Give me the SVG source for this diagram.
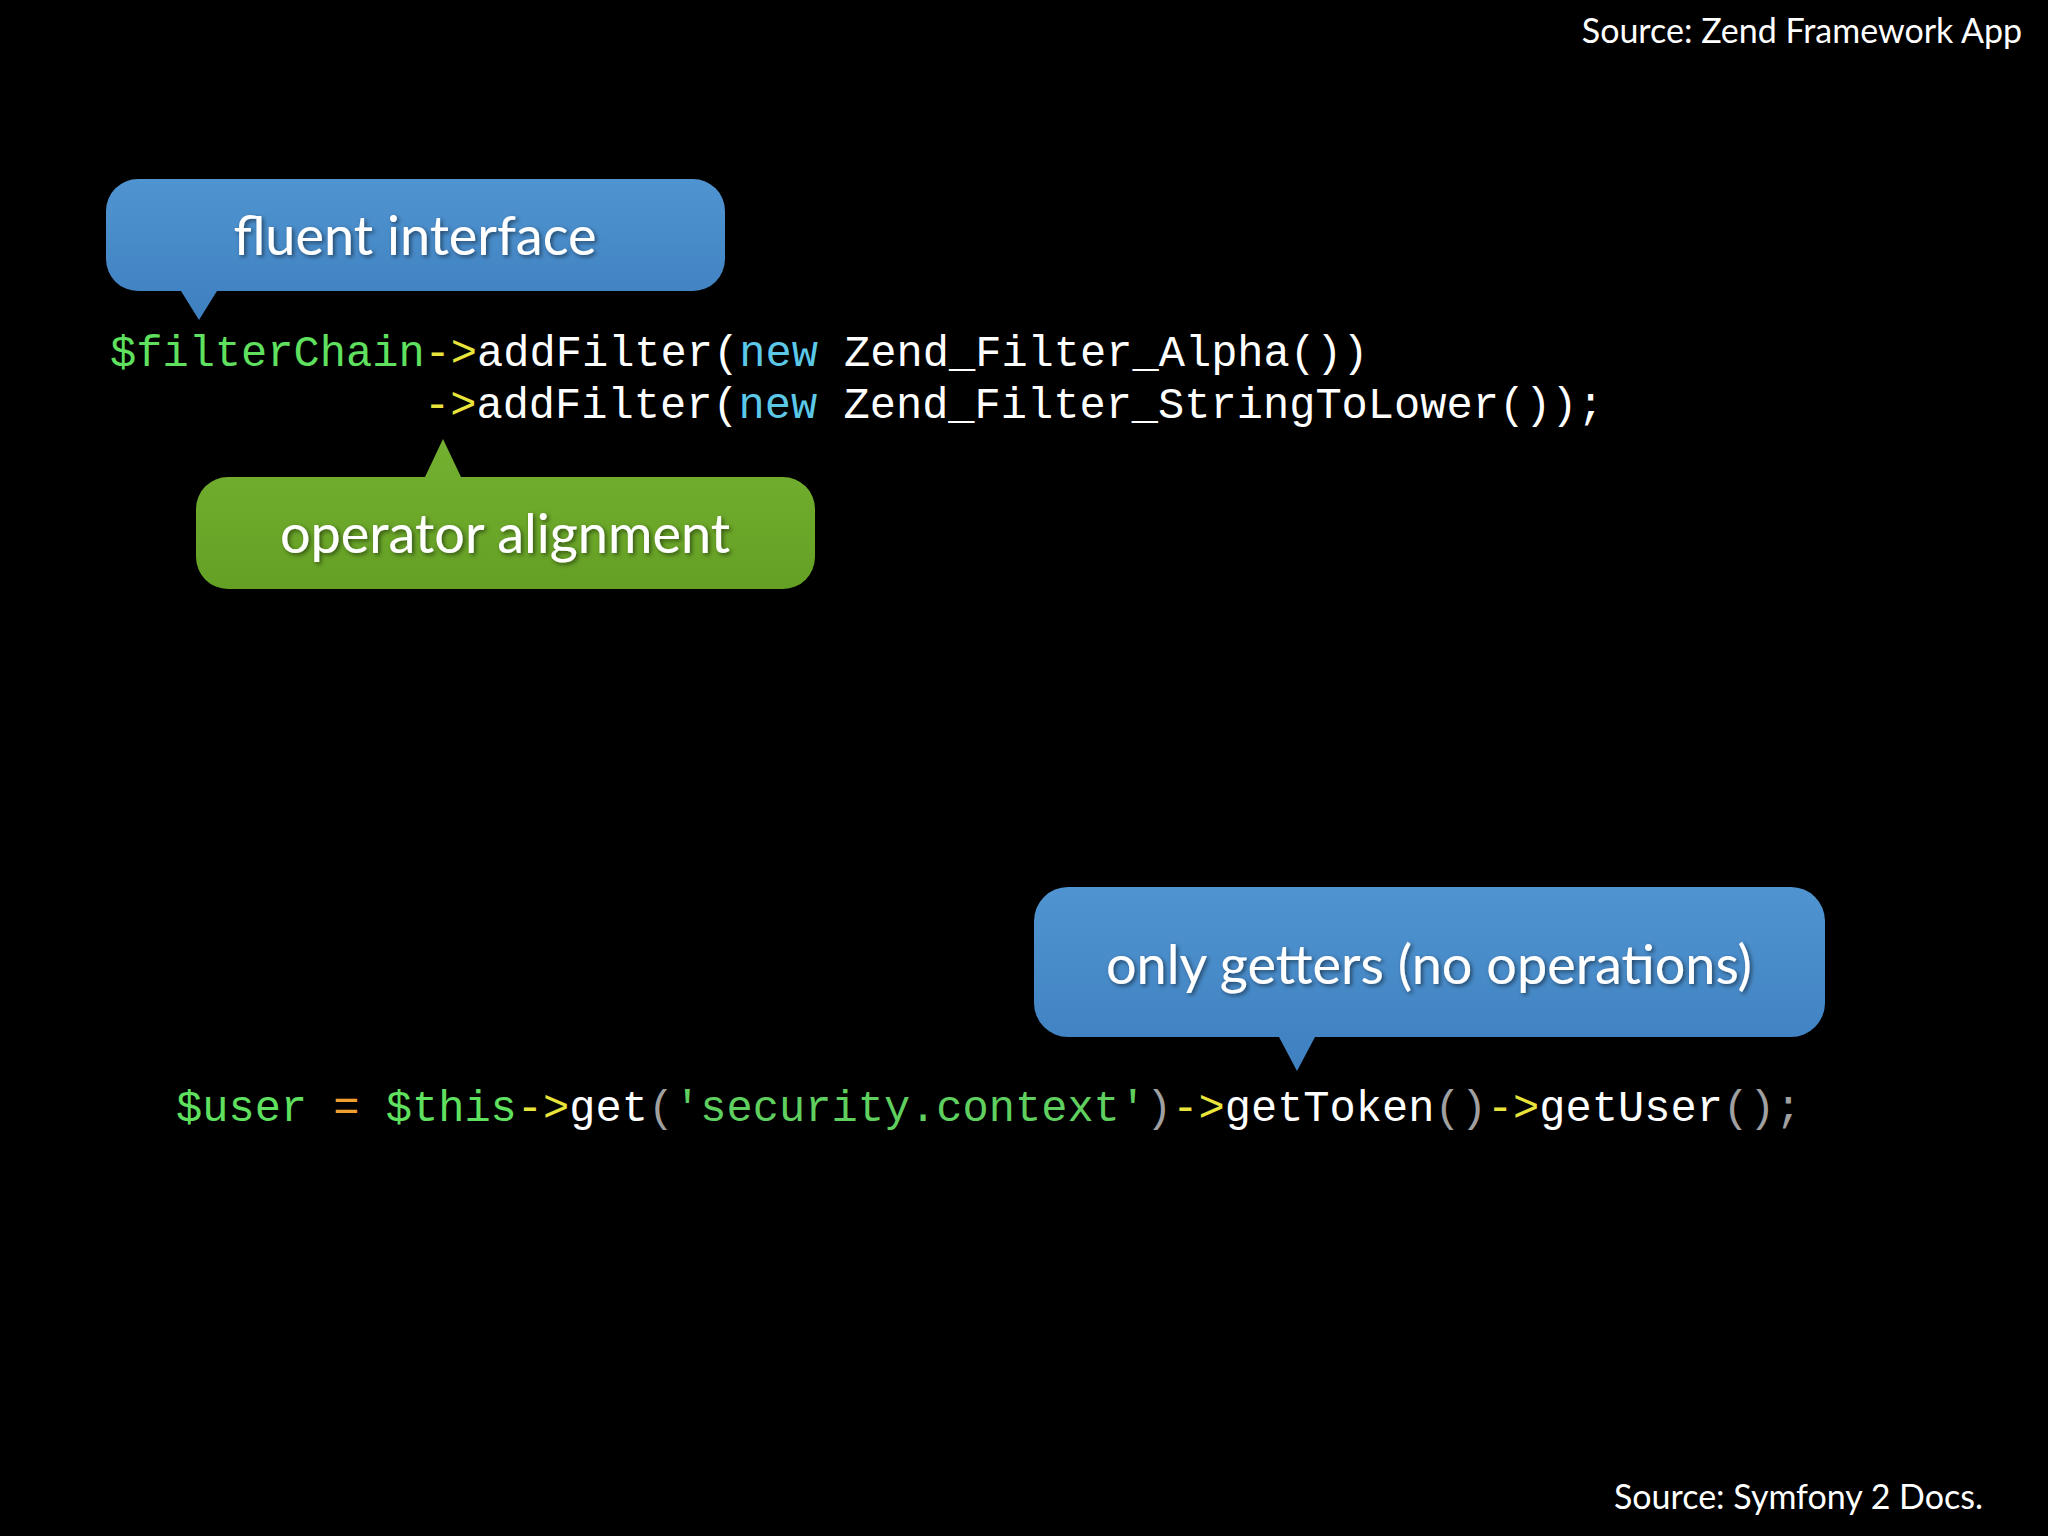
<svg xmlns="http://www.w3.org/2000/svg" width="2048" height="1536" viewBox="0 0 2048 1536">
<style>
.src{font-family:"Lato","Open Sans",sans-serif;font-size:34px;fill:#fff}
.lbl{font-family:"Lato","Open Sans",sans-serif;font-size:54px;fill:#fff;text-anchor:middle}
.code{font-family:"Liberation Mono",monospace;font-size:43.7px;fill:#fff}
.v{fill:#5fe05f}.o{fill:#e8e43c}.k{fill:#5cc8e8}.e{fill:#f0a030}.p{fill:#a0a0a0}.s{fill:#5fd05f}
</style>
<defs>
<linearGradient id="gb" x1="0" y1="0" x2="0" y2="1"><stop offset="0" stop-color="#4f94d0"/><stop offset="1" stop-color="#3f80c0"/></linearGradient>
<linearGradient id="gg" x1="0" y1="0" x2="0" y2="1"><stop offset="0" stop-color="#74b030"/><stop offset="1" stop-color="#64a024"/></linearGradient>
<filter id="sh"><feDropShadow dx="2" dy="2" stdDeviation="2" flood-color="#000" flood-opacity="0.5"/></filter>
</defs>
<rect width="2048" height="1536" fill="#000"/>
<text class="src" x="2022" y="43" text-anchor="end">Source: Zend Framework App</text>
<text class="src" x="1983" y="1509" text-anchor="end">Source: Symfony 2 Docs.</text>
<g id="bubble-fluent">
<path d="M138,179 H693 A32,32 0 0 1 725,211 V259 A32,32 0 0 1 693,291 H217 L199,320 L181,291 H138 A32,32 0 0 1 106,259 V211 A32,32 0 0 1 138,179 Z" fill="url(#gb)"/>
<text class="lbl" x="415" y="255" filter="url(#sh)">fluent interface</text>
</g>
<g id="bubble-operator">
<path d="M228,477 H425 L443,439 L461,477 H783 A32,32 0 0 1 815,509 V557 A32,32 0 0 1 783,589 H228 A32,32 0 0 1 196,557 V509 A32,32 0 0 1 228,477 Z" fill="url(#gg)"/>
<text class="lbl" x="505" y="553" filter="url(#sh)">operator alignment</text>
</g>
<g id="bubble-getters">
<path d="M1068,887 H1791 A34,34 0 0 1 1825,921 V1003 A34,34 0 0 1 1791,1037 H1315 L1297,1071 L1279,1037 H1068 A34,34 0 0 1 1034,1003 V921 A34,34 0 0 1 1068,887 Z" fill="url(#gb)"/>
<text class="lbl" x="1429" y="984" filter="url(#sh)">only getters (no operations)</text>
</g>
<g id="code">
<text class="code" x="110" y="366" xml:space="preserve"><tspan class="v">$filterChain</tspan><tspan class="o">-&gt;</tspan>addFilter(<tspan class="k">new</tspan> Zend_Filter_Alpha())</text>
<text class="code" x="424" y="418" xml:space="preserve"><tspan class="o">-&gt;</tspan>addFilter(<tspan class="k">new</tspan> Zend_Filter_StringToLower());</text>
<text class="code" x="176" y="1121" xml:space="preserve"><tspan class="v">$user</tspan> <tspan class="e">=</tspan> <tspan class="v">$this</tspan><tspan class="o">-&gt;</tspan>get<tspan class="p">(</tspan><tspan class="s">'security.context'</tspan><tspan class="p">)</tspan><tspan class="o">-&gt;</tspan>getToken<tspan class="p">()</tspan><tspan class="o">-&gt;</tspan>getUser<tspan class="p">();</tspan></text>
</g>
<g id="connectors"></g>
</svg>
